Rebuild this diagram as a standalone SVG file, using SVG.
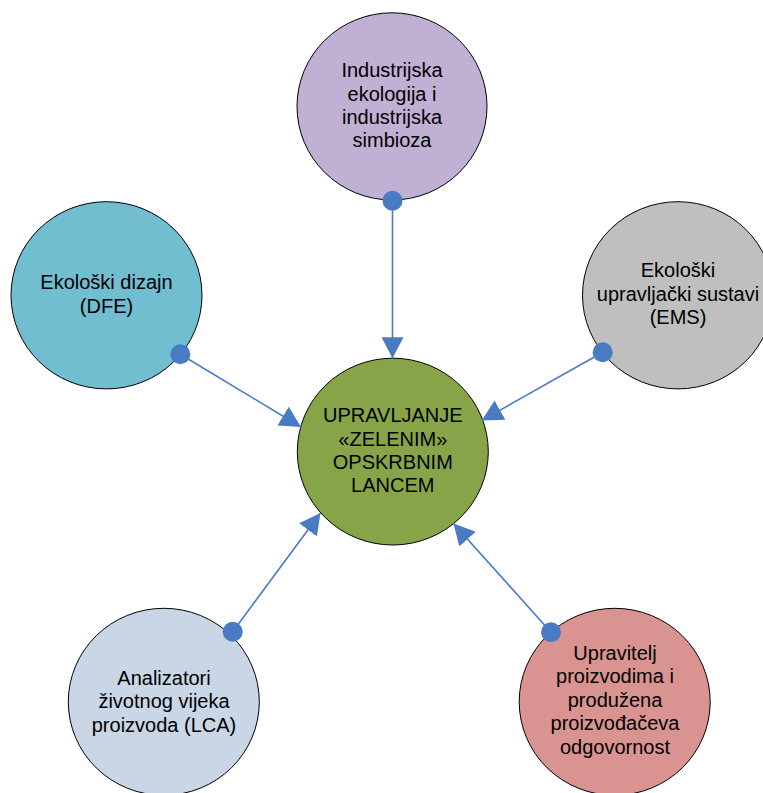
<svg xmlns="http://www.w3.org/2000/svg" width="763" height="793" viewBox="0 0 763 793">
<style>
.node{stroke:#000;stroke-width:1}
.t{font-family:"Liberation Sans",Arial,sans-serif;font-size:20px;fill:#000;text-anchor:middle}
.c{stroke:#4A7BC2;stroke-width:1.6;fill:none;marker-end:url(#ah)}
.dot{fill:#4A7BC2}
</style>
<defs>
<marker id="ah" markerUnits="userSpaceOnUse" markerWidth="24" markerHeight="24" refX="21" refY="11" orient="auto" viewBox="0 0 24 22">
<path d="M0,0 L21,11 L0,22 Z" fill="#4A7BC2"/>
</marker>
</defs>
<rect width="763" height="793" fill="#fff"/>
<g id="top">
<ellipse class="node" cx="392" cy="106.4" rx="95" ry="93.6" fill="#C0B0D4"/>
<text class="t" x="392" y="77.3">Industrijska</text>
<text class="t" x="392" y="100.7">ekologija i</text>
<text class="t" x="392" y="124">industrijska</text>
<text class="t" x="392" y="147.4">simbioza</text>
</g>
<g id="left">
<ellipse class="node" cx="106.5" cy="295.3" rx="95.5" ry="93.6" fill="#70BED0"/>
<text class="t" x="106.5" y="289.3">Ekološki dizajn</text>
<text class="t" x="106.5" y="312.7">(DFE)</text>
</g>
<g id="right">
<ellipse class="node" cx="678" cy="295.3" rx="95.5" ry="93.6" fill="#BFBFBF"/>
<text class="t" x="678" y="277.3">Ekološki</text>
<text class="t" x="678" y="300.7">upravljački sustavi</text>
<text class="t" x="678" y="324">(EMS)</text>
</g>
<g id="center">
<ellipse class="node" cx="392.8" cy="451.6" rx="95.5" ry="93.4" fill="#87A548"/>
<text class="t" x="392.8" y="422.3">UPRAVLJANJE</text>
<text class="t" x="392.8" y="445.7">«ZELENIM»</text>
<text class="t" x="392.8" y="469">OPSKRBNIM</text>
<text class="t" x="392.8" y="492.4">LANCEM</text>
</g>
<g id="bottomleft">
<ellipse class="node" cx="163.8" cy="701.8" rx="95.5" ry="93.5" fill="#C8D6E6"/>
<text class="t" x="164" y="685">Analizatori</text>
<text class="t" x="164" y="708.4">životnog vijeka</text>
<text class="t" x="164" y="731.8">proizvoda (LCA)</text>
</g>
<g id="bottomright">
<ellipse class="node" cx="614.7" cy="701.8" rx="95.5" ry="93.5" fill="#D99491"/>
<text class="t" x="615" y="660">Upravitelj</text>
<text class="t" x="615" y="683.4">proizvodima i</text>
<text class="t" x="615" y="706.8">produžena</text>
<text class="t" x="615" y="730.2">proizvođačeva</text>
<text class="t" x="615" y="753.6">odgovornost</text>
</g>
<g id="connectors">
<line class="c" x1="392.5" y1="201" x2="392.5" y2="358.3"/>
<circle class="dot" cx="392.5" cy="200.7" r="10"/>
<line class="c" x1="180.3" y1="354.3" x2="301" y2="427"/>
<circle class="dot" cx="180.3" cy="354.3" r="10"/>
<line class="c" x1="602.7" y1="352.3" x2="481.7" y2="420.5"/>
<circle class="dot" cx="602.7" cy="352.3" r="10"/>
<line class="c" x1="232.7" y1="631.7" x2="320.5" y2="513"/>
<circle class="dot" cx="232.7" cy="631.7" r="10"/>
<line class="c" x1="551" y1="632.3" x2="453.5" y2="523.5"/>
<circle class="dot" cx="551" cy="632.3" r="10"/>
</g>
</svg>
